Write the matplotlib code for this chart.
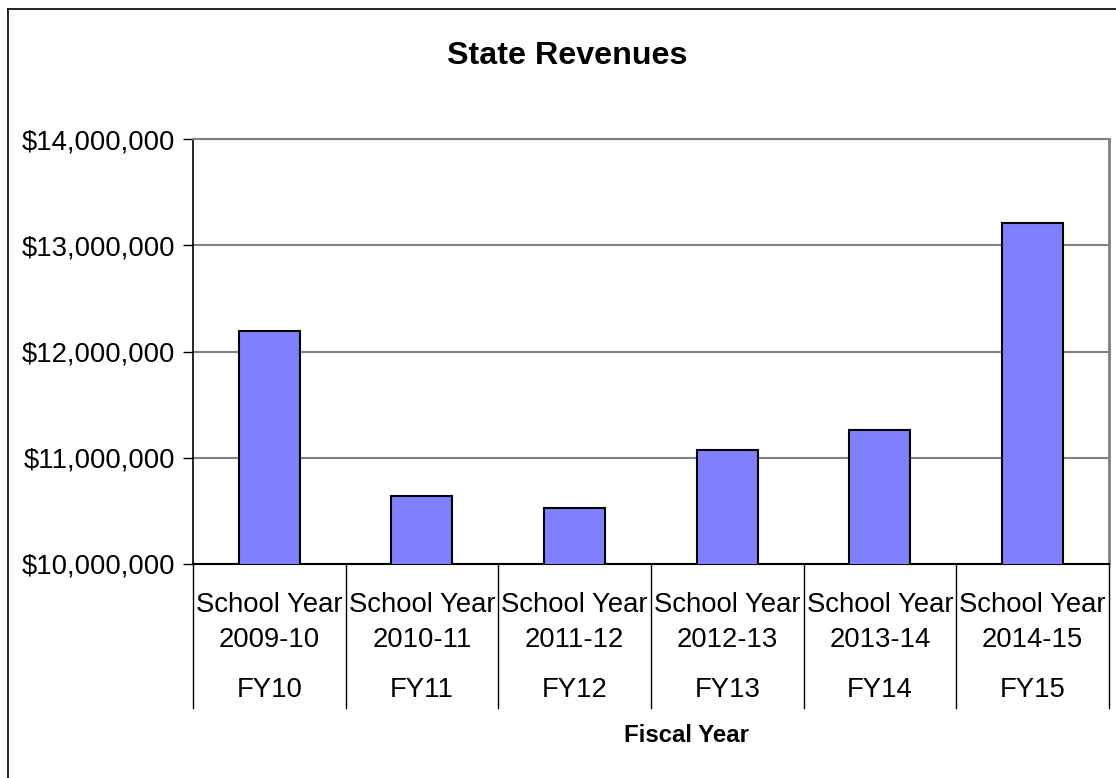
import matplotlib.pyplot as plt
from matplotlib.ticker import FuncFormatter
import matplotlib.transforms as mtransforms

plt.rcParams['font.family'] = ['Liberation Sans', 'DejaVu Sans']

school_years = ["2009-10", "2010-11", "2011-12", "2012-13", "2013-14", "2014-15"]
fiscal_years = ["FY10", "FY11", "FY12", "FY13", "FY14", "FY15"]
revenues = [12195000, 10643000, 10531000, 11071000, 11258000, 13210000]

fig = plt.figure(figsize=(11.16, 7.78), dpi=100)
ax = fig.add_axes([0.1729, 0.2751, 0.8208, 0.5462])

x = list(range(len(revenues)))
ax.bar(x, revenues, width=0.4, color="#8080FF", edgecolor="black", linewidth=1.5, zorder=3)

ax.set_xlim(-0.5, len(revenues) - 0.5)
ax.set_ylim(10000000, 14000000)
ax.set_yticks([10000000, 11000000, 12000000, 13000000, 14000000])
ax.yaxis.set_major_formatter(FuncFormatter(lambda v, p: "${:,.0f}".format(v)))
ax.tick_params(axis="y", labelsize=19.8, length=7, width=1, color="black", pad=6)
ax.set_xticks([])
ax.grid(axis="y", color="#808080", linewidth=1.5, zorder=0)

ax.spines["left"].set_color("black")
ax.spines["bottom"].set_color("black")
ax.spines["left"].set_linewidth(1.2)
ax.spines["bottom"].set_linewidth(1.5)
ax.spines["top"].set_color("#808080")
ax.spines["right"].set_color("#808080")
ax.spines["top"].set_linewidth(1.5)
ax.spines["right"].set_linewidth(2)

trans = mtransforms.blended_transform_factory(ax.transData, ax.transAxes)
for b in range(len(revenues) + 1):
    ax.plot([b - 0.5, b - 0.5], [0, -0.339], color="black", linewidth=1,
            transform=trans, clip_on=False)

for i in x:
    ax.text(i, -0.0965, "School Year", transform=trans, ha="center", va="center", fontsize=19.8)
    ax.text(i, -0.179, school_years[i], transform=trans, ha="center", va="center", fontsize=19.8)
    ax.text(i, -0.296, fiscal_years[i], transform=trans, ha="center", va="center", fontsize=19.8)

fig.text(687 / 1116, 1 - 735 / 778, "Fiscal Year", ha="center", va="center",
         fontsize=17.3, fontweight="bold")
fig.text(567 / 1116, 1 - 56 / 778, "State Revenues", ha="center", va="center",
         fontsize=23.2, fontweight="bold")

# chart border (only left and top visible in the crop)
fig.add_artist(plt.Line2D([8 / 1116, 8 / 1116], [0, 1 - 9 / 778], color="black", linewidth=1.2))
fig.add_artist(plt.Line2D([8 / 1116, 1], [1 - 9 / 778, 1 - 9 / 778], color="black", linewidth=1.2))

fig.savefig("out.png", dpi=100)
